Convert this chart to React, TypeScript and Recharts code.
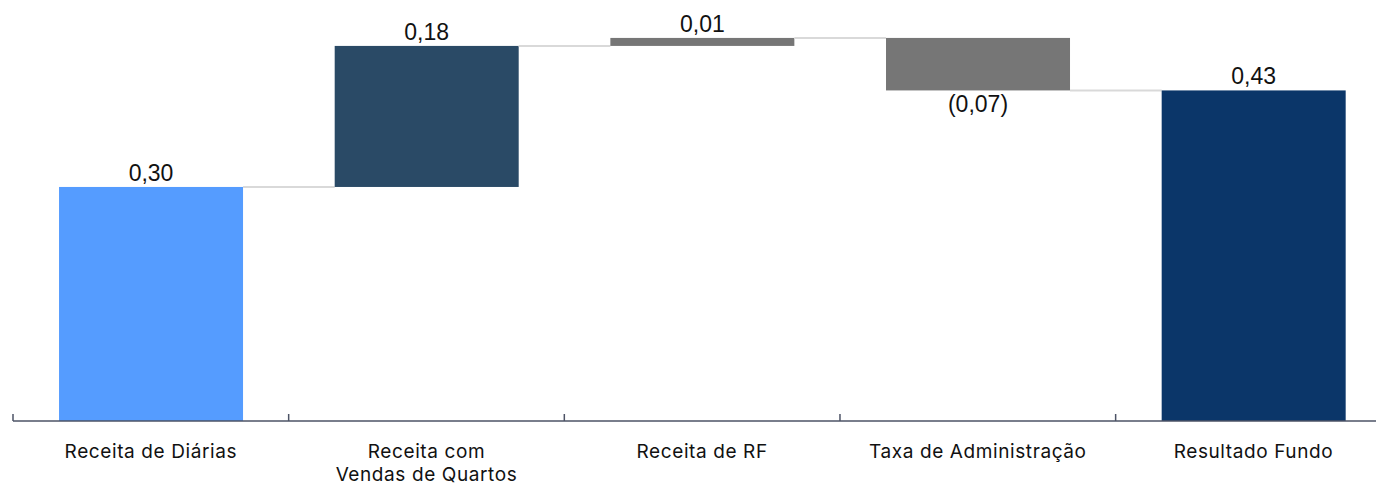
import React from 'react';
import { BarChart, Bar, XAxis, YAxis, LabelList } from 'recharts';

const categories = [
  'Receita de Diárias',
  'Receita com\nVendas de Quartos',
  'Receita de RF',
  'Taxa de Administração',
  'Resultado Fundo',
];
const values = [0.3045, 0.1835, 0.0104, -0.0683, 0.4301];
const isTotal = [false, false, false, false, true];
const barColors = ['#559cff', '#2a4a66', '#767676', '#767676', '#0b3669'];

const CHART_W = 1390;
const CHART_H = 477;
const MARGIN = { top: 28.7, right: 6.7, left: 5, bottom: 0 };
const PLOT_W = CHART_W - MARGIN.left - MARGIN.right;
const BAND = PLOT_W / categories.length;

// waterfall: invisible base + visible delta stacked on top
let running = 0;
const data = categories.map((name, i) => {
  const v = values[i];
  let base: number;
  if (isTotal[i]) {
    base = 0;
    running = v;
  } else {
    base = v >= 0 ? running : running + v;
    running += v;
  }
  return { name, value: v, base, delta: Math.abs(v), level: running };
});

const fmt = (v: number) => {
  const s = Math.abs(v).toFixed(2).replace('.', ',');
  return v < 0 ? `(${s})` : s;
};

const StepBar = (props: any) => {
  const { x, y, width, height, index, payload } = props;
  const neg = payload.value < 0;
  const lineY = neg ? y + height : y;
  const gap = BAND - width;
  return (
    <g>
      <rect x={x} y={y} width={width} height={height} fill={barColors[index]} />
      {index < data.length - 1 && (
        <line x1={x + width} x2={x + width + gap} y1={lineY} y2={lineY} stroke="#d9d9d9" strokeWidth={2} />
      )}
    </g>
  );
};

const ValueLabel = (props: any) => {
  const { x, y, width, height, value } = props;
  const neg = value < 0;
  return (
    <text
      x={x + width / 2}
      y={neg ? y + height + 22 : y - 6}
      textAnchor="middle"
      fontFamily="'Liberation Sans', Arial, sans-serif"
      fontSize={23}
      fill="#111"
    >
      {fmt(value)}
    </text>
  );
};

const CategoryTick = (props: any) => {
  const { x, y, payload } = props;
  const lines = String(payload.value).split('\n');
  return (
    <g>
      <line x1={x - BAND / 2} x2={x - BAND / 2} y1={y - 7} y2={y} stroke="#4d5366" strokeWidth={1.5} />
      <text
        x={x}
        y={y + 37}
        textAnchor="middle"
        fontFamily="Inter, sans-serif"
        fontSize={19}
        letterSpacing={0.6}
        fill="#111"
      >
        {lines.map((l, i) => (
          <tspan key={i} x={x} dy={i === 0 ? 0 : 23}>
            {l}
          </tspan>
        ))}
      </text>
    </g>
  );
};

export default function App() {
  return (
    <div style={{ width: 1376, overflow: 'hidden' }}>
      <BarChart width={CHART_W} height={CHART_H} data={data} margin={MARGIN} barCategoryGap="16.7%">
        <XAxis
          dataKey="name"
          height={64}
          interval={0}
          tickLine={false}
          tickSize={0}
          tickMargin={0}
          axisLine={{ stroke: '#4d5366', strokeWidth: 1.5 }}
          tick={<CategoryTick />}
        />
        <YAxis hide domain={[0, 0.5]} allowDataOverflow />
        <Bar dataKey="base" stackId="w" fill="transparent" isAnimationActive={false} />
        <Bar dataKey="delta" stackId="w" shape={<StepBar />} isAnimationActive={false}>
          <LabelList dataKey="value" content={<ValueLabel />} />
        </Bar>
      </BarChart>
    </div>
  );
}
